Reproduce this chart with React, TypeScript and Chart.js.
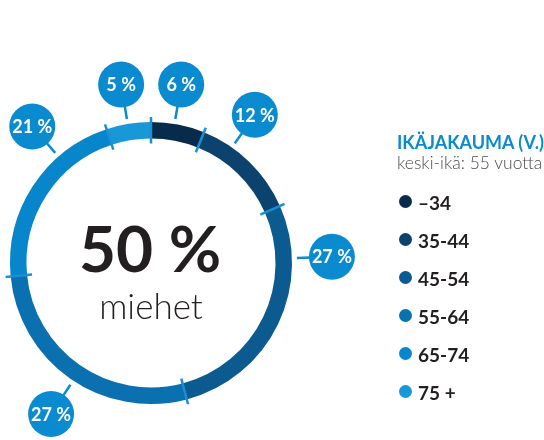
import React, { useEffect, useRef } from "react";
import { Chart, registerables } from "chart.js";

Chart.register(...registerables);

// ---- data ----
const ageGroups = ["–34", "35-44", "45-54", "55-64", "65-74", "75 +"];
const shares = [6, 12, 27, 27, 21, 5];
const groupColors = ["#082a4b", "#0c426e", "#0b5b90", "#0a70af", "#0886cb", "#1898d6"];
const legendTitle = "IKÄJAKAUMA (V.)";
const legendSubtitle = "keski-ikä: 55 vuotta";
const centerValue = "50 %";
const centerLabel = "miehet";

// callout placement (degrees clockwise from top) – layout only
const calloutAngles = [9.6, 35, 88, 213.5, 319, 350.5];

const FONT = "Lato, 'Open Sans', sans-serif";

const ringDecor = {
  id: "ringDecor",
  afterDatasetsDraw(chart: any) {
    const meta = chart.getDatasetMeta(0);
    const arcs = meta.data as any[];
    if (!arcs.length) return;
    const ctx = chart.ctx as CanvasRenderingContext2D;
    const cx = arcs[0].x;
    const cy = arcs[0].y;
    const ro = arcs[0].outerRadius;
    const ri = arcs[0].innerRadius;
    ctx.save();

    // boundary ticks
    ctx.strokeStyle = "#1a8fd4";
    ctx.lineWidth = 2.5;
    arcs.forEach((arc) => {
      const a = arc.startAngle;
      ctx.beginPath();
      ctx.moveTo(cx + Math.cos(a) * (ri - 5), cy + Math.sin(a) * (ri - 5));
      ctx.lineTo(cx + Math.cos(a) * (ro + 5), cy + Math.sin(a) * (ro + 5));
      ctx.stroke();
    });

    // callout bubbles
    const R = ro + 40;
    const br = 23;
    shares.forEach((v, i) => {
      const t = ((calloutAngles[i] - 90) * Math.PI) / 180;
      const bx = cx + Math.cos(t) * R;
      const by = cy + Math.sin(t) * R;
      const ux = -Math.cos(t);
      const uy = -Math.sin(t);
      ctx.strokeStyle = "#0a8bd0";
      ctx.lineWidth = 2.5;
      ctx.beginPath();
      ctx.moveTo(bx + ux * (br - 2), by + uy * (br - 2));
      ctx.lineTo(bx + ux * (br + 12), by + uy * (br + 12));
      ctx.stroke();
      ctx.fillStyle = "#0a8bd0";
      ctx.beginPath();
      ctx.arc(bx, by, br, 0, Math.PI * 2);
      ctx.fill();
      ctx.fillStyle = "#ffffff";
      ctx.font = `bold 18px ${FONT}`;
      ctx.textAlign = "center";
      ctx.textBaseline = "middle";
      ctx.fillText(`${v} %`, bx, by + 1);
    });

    // center text
    ctx.fillStyle = "#231f20";
    ctx.textAlign = "center";
    ctx.textBaseline = "alphabetic";
    ctx.font = `bold 64px ${FONT}`;
    ctx.fillText(centerValue, cx - 1, cy + 9);
    ctx.font = `300 35px ${FONT}`;
    ctx.fillText(centerLabel, cx, cy + 56);
    ctx.restore();
  },
};

export default function App() {
  const canvasRef = useRef<HTMLCanvasElement | null>(null);

  useEffect(() => {
    if (!canvasRef.current) return;
    const chart = new Chart(canvasRef.current, {
      type: "doughnut",
      data: {
        labels: ageGroups,
        datasets: [
          {
            data: shares,
            backgroundColor: groupColors,
            borderWidth: 0,
          },
        ],
      },
      options: {
        animation: false,
        responsive: false,
        devicePixelRatio: 1,
        cutout: "88.3%",
        rotation: 0,
        layout: { padding: { left: 10, right: 252, top: 122, bottom: 36 } },
        plugins: {
          legend: { display: false },
          tooltip: { enabled: false },
        },
      },
      plugins: [ringDecor],
    });
    return () => chart.destroy();
  }, []);

  return (
    <div
      style={{
        position: "fixed",
        left: 0,
        top: 0,
        width: 544,
        height: 440,
        background: "#ffffff",
        overflow: "hidden",
        fontFamily: FONT,
      }}
    >
      <canvas ref={canvasRef} width={544} height={440} style={{ position: "absolute", left: 0, top: 0 }} />
      <div
        style={{
          position: "absolute",
          left: 397,
          top: 133,
          fontSize: 18,
          lineHeight: "18px",
          fontWeight: 700,
          color: "#0a8bd0",
          whiteSpace: "nowrap",
        }}
      >
        {legendTitle}
      </div>
      <div
        style={{
          position: "absolute",
          left: 397,
          top: 154,
          fontSize: 17.5,
          lineHeight: "17.5px",
          fontWeight: 300,
          color: "#4a4a4a",
          whiteSpace: "nowrap",
        }}
      >
        {legendSubtitle}
      </div>
      {ageGroups.map((g, i) => {
        const mc = 201 + i * 38;
        return (
          <React.Fragment key={g}>
            <div
              style={{
                position: "absolute",
                left: 398.5,
                top: mc - 6.5,
                width: 13,
                height: 13,
                borderRadius: "50%",
                background: groupColors[i],
              }}
            />
            <div
              style={{
                position: "absolute",
                left: 418,
                top: mc - 8,
                fontSize: 19,
                lineHeight: "19px",
                fontWeight: 700,
                color: "#231f20",
                whiteSpace: "nowrap",
              }}
            >
              {g}
            </div>
          </React.Fragment>
        );
      })}
    </div>
  );
}
